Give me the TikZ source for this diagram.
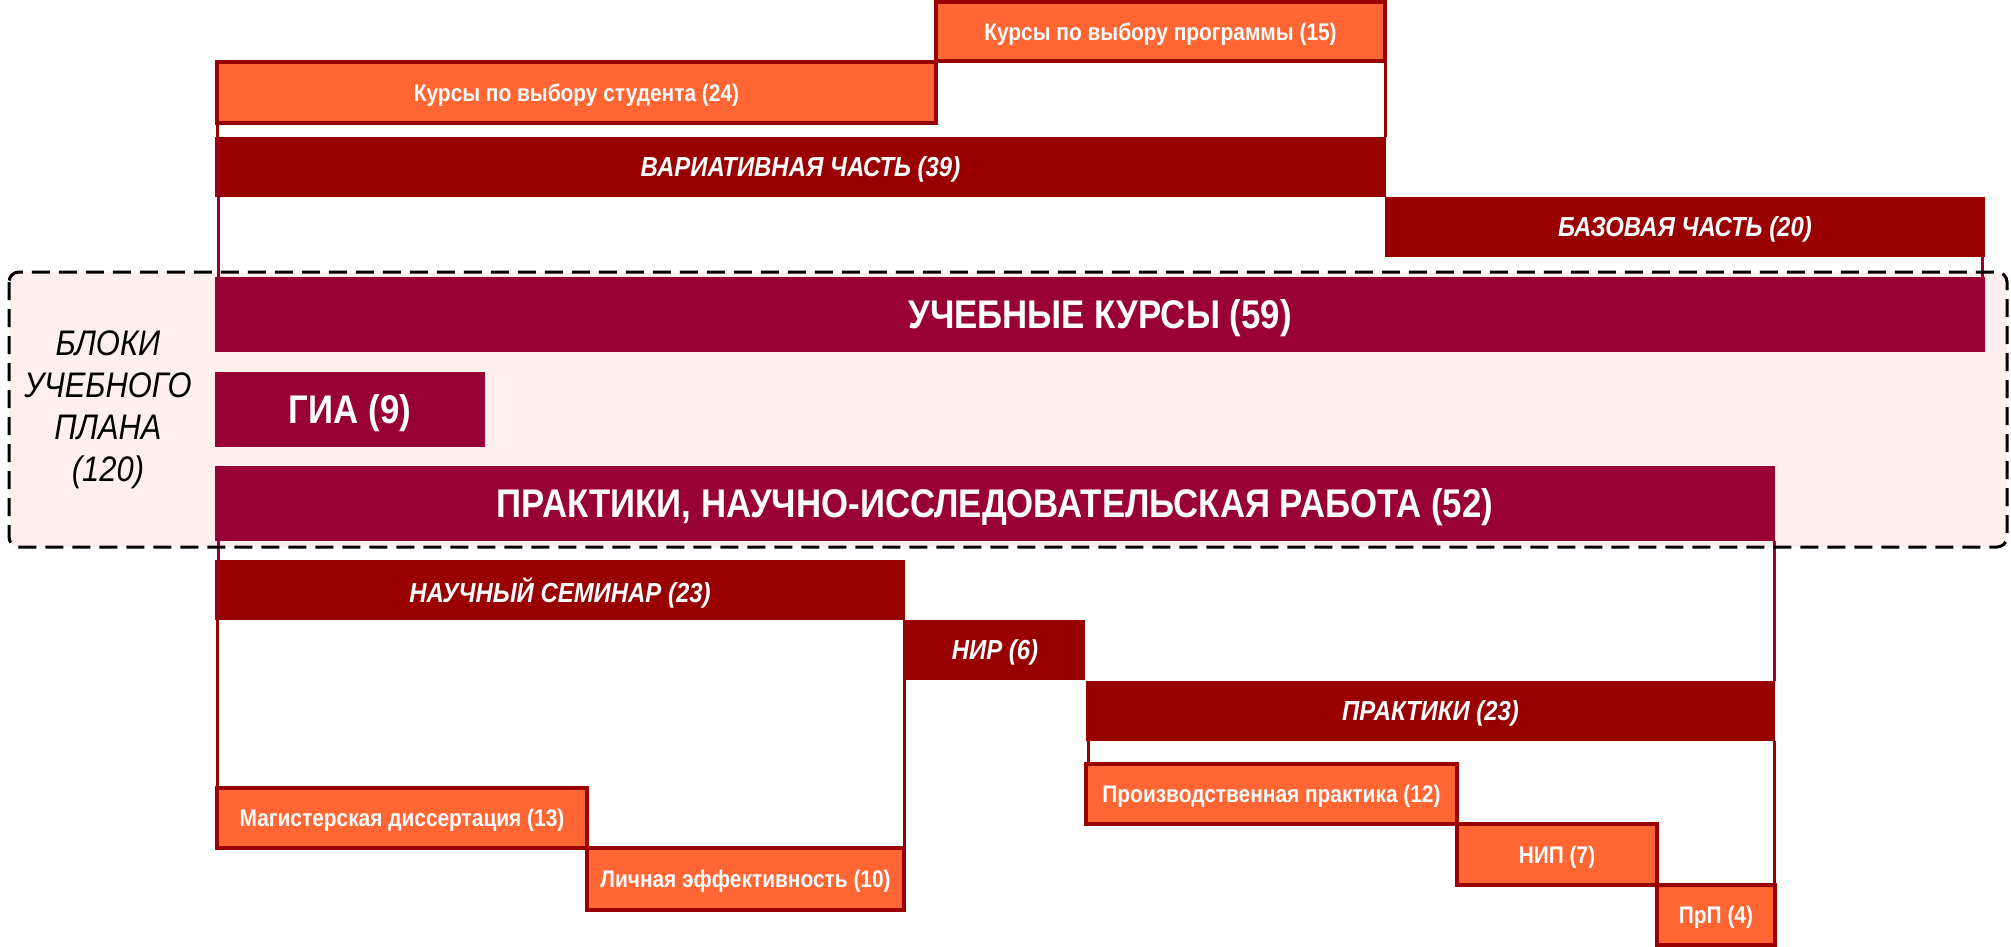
\documentclass[tikz,border=0pt]{standalone}
\usepackage{fontspec}
\setmainfont{Liberation Sans}[FakeStretch=0.87]
\definecolor{orng}{HTML}{FF6633}
\definecolor{dred}{HTML}{990000}
\definecolor{crim}{HTML}{990033}
\definecolor{pinkbg}{HTML}{FFEFEF}
\tikzset{
  bar/.style={inner sep=0pt, outer sep=0pt, text=white, align=center, text depth=0pt},
  obox/.style={bar, fill=orng, draw=dred, line width=3.5pt, font=\bfseries\fontsize{24}{27}\selectfont},
  dbar/.style={bar, fill=dred, font=\bfseries\itshape\fontsize{27.5}{31}\selectfont},
  cbar/.style={bar, fill=crim, font=\bfseries\fontsize{40}{46}\selectfont},
  connd/.style={draw=dred, line width=3pt},
  connc/.style={draw=crim, line width=3pt},
  dashbox/.style={draw=black, line width=3pt, dash pattern=on 18pt off 9pt, rounded corners=10pt}
}
\begin{document}
\begin{tikzpicture}[x=1pt,y=-1pt]
\useasboundingbox (0,0) rectangle (2011,947);
\fill[pinkbg, rounded corners=10pt] (9,272) rectangle (2007,547);

\node[obox, minimum width=449pt, minimum height=59pt] (prog) at (1160.5,31.5) {Курсы по выбору программы (15)};
\node[obox, minimum width=719pt, minimum height=61pt] (stud) at (576.5,92.5) {Курсы по выбору студента (24)};
\node[dbar, minimum width=1171pt, minimum height=60pt] (var) at (800.5,167) {ВАРИАТИВНАЯ ЧАСТЬ (39)};
\node[dbar, minimum width=600pt, minimum height=60pt] (baz) at (1685,227) {БАЗОВАЯ ЧАСТЬ (20)};
\node[cbar, minimum width=1770pt, minimum height=75pt] (uch) at (1100,314.5) {УЧЕБНЫЕ КУРСЫ (59)};
\node[cbar, minimum width=270pt, minimum height=75pt] (gia) at (350,409.5) {ГИА (9)};
\node[cbar, minimum width=1560pt, minimum height=75pt] (prak52) at (995,503.5) {ПРАКТИКИ, НАУЧНО-ИССЛЕДОВАТЕЛЬСКАЯ РАБОТА (52)};
\node[dbar, minimum width=690pt, minimum height=60pt] (sem) at (560,590) {НАУЧНЫЙ СЕМИНАР (23)};
\node[dbar, minimum width=180pt, minimum height=60pt] (nir) at (995,650) {НИР (6)};
\node[dbar, minimum width=689pt, minimum height=60pt] (prak23) at (1430.5,711) {ПРАКТИКИ (23)};
\node[obox, minimum width=370pt, minimum height=60pt] (mag) at (402,818) {Магистерская диссертация (13)};
\node[obox, minimum width=317pt, minimum height=62pt] (lich) at (745.5,879) {Личная эффективность (10)};
\node[obox, minimum width=371pt, minimum height=60pt] (proizv) at (1271.5,794) {Производственная практика (12)};
\node[obox, minimum width=200pt, minimum height=61pt] (nip) at (1557,854.5) {НИП (7)};
\node[obox, minimum width=118pt, minimum height=60pt] (prp) at (1716,915) {ПрП (4)};

\node[align=center, font=\itshape\fontsize{35.5}{42}\selectfont, text=black, inner sep=0pt] (blk) at (108,410) {БЛОКИ\\УЧЕБНОГО\\ПЛАНА\\(120)};

% connectors
\draw[connd] (stud.south west) -- (stud.south west |- var.north);
\draw[connc] ([xshift=3pt]var.north west) -- ([xshift=3pt]var.north west |- uch.north);
\draw[connd] (prog.south east) -- (prog.south east |- var.north);
\draw[connc] ([xshift=-3pt]baz.south east) -- ([xshift=-3pt]baz.south east |- uch.north);
\draw[connc] ([xshift=3pt]prak52.south west) -- ([xshift=3pt]prak52.south west |- sem.south);
\draw[connd] (mag.north west) -- (mag.north west |- sem.south);
\draw[connd] (lich.north east) -- (lich.north east |- sem.south);
\draw[connc] ([xshift=-1pt]prak52.south east) -- ([xshift=-1pt]prak52.south east |- prak23.north);
\draw[connd] ([xshift=-1pt]prak23.south east) -- ([xshift=-1pt]prak23.south east |- prp.north);
\draw[connd] ([xshift=2pt]prak23.south west) -- ([xshift=2pt]prak23.south west |- proizv.north);

\draw[dashbox] (9,272) rectangle (2007,547);
\end{tikzpicture}
\end{document}
